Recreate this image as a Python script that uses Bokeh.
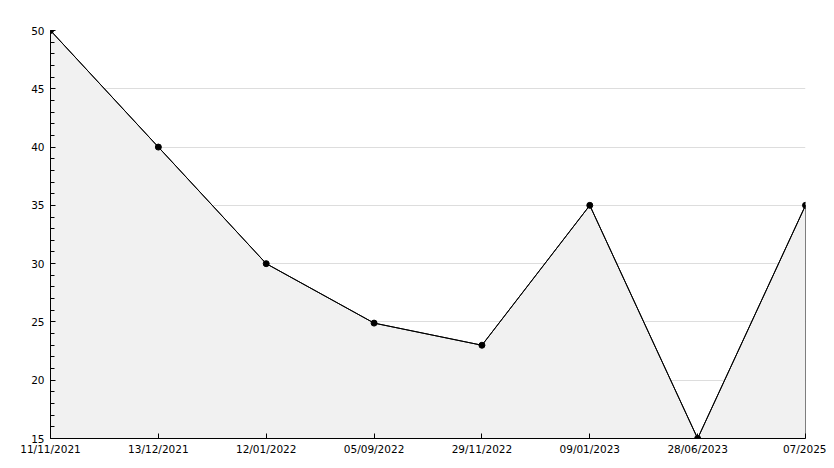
from bokeh.plotting import figure
from bokeh.models import Range1d, FixedTicker, SingleIntervalTicker
from bokeh.embed import file_html
from bokeh.resources import INLINE

dates = ["11/11/2021", "13/12/2021", "12/01/2022", "05/09/2022",
         "29/11/2022", "09/01/2023", "28/06/2023", "07/2025"]
values = [50, 40, 30, 24.9, 23, 35, 15, 35]
y_min, y_max = 15, 50

xs = list(range(len(dates)))

p = figure(width=826, height=460, output_backend="svg", toolbar_location=None,
           x_range=Range1d(0, len(dates) - 1), y_range=Range1d(y_min, y_max),
           min_border_left=50, min_border_right=21, min_border_top=30, min_border_bottom=22)
p.outline_line_color = None
p.background_fill_color = "white"

# area
px = [xs[0]] + xs + [xs[-1]]
py = [y_min] + values + [y_min]
p.patch(px, py, fill_color="#f1f1f1", line_color="black", line_width=1)
p.line(xs, values, line_color="black", line_width=1)
p.scatter(xs, values, size=6, marker="circle", fill_color="black", line_color="black")

p.xaxis.ticker = FixedTicker(ticks=xs)
p.xaxis.major_label_overrides = {i: d for i, d in enumerate(dates)}
p.yaxis.ticker = SingleIntervalTicker(interval=5, num_minor_ticks=5)

for ax in (p.xaxis, p.yaxis):
    ax.axis_line_color = "black"
    ax.axis_line_width = 1
    ax.major_tick_in = 5
    ax.major_tick_out = 0
    ax.minor_tick_in = 4
    ax.minor_tick_out = 0
    ax.major_tick_line_color = "black"
    ax.minor_tick_line_color = "black"
    ax.major_label_text_font = "DejaVu Sans"
    ax.major_label_text_font_size = "10.5px"
    ax.major_label_text_color = "black"
p.xaxis.minor_tick_line_color = None
p.xaxis.major_label_standoff = 4
p.yaxis.major_label_standoff = 6

p.xgrid.grid_line_color = None
p.ygrid.grid_line_color = "#dddddd"
p.ygrid.grid_line_width = 1

open("out.html", "w").write(file_html(p, INLINE))
